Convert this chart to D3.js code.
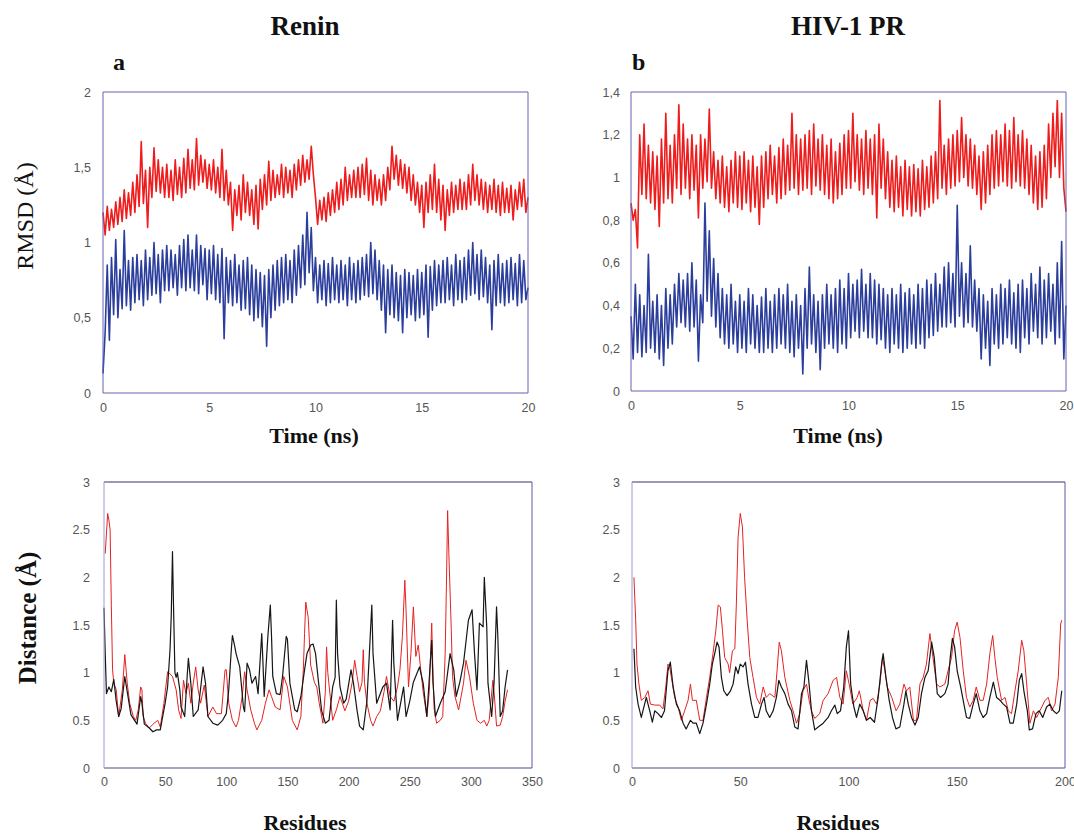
<!DOCTYPE html>
<html>
<head>
<meta charset="utf-8">
<script src="https://cdn.jsdelivr.net/npm/d3@7"></script>
<style>
  body { margin: 0; background: #fff; }
  svg { display: block; }
  .tick text { font-family: "Liberation Sans", Arial, sans-serif; font-size: 12.5px; fill: #555; }
  .title { font-family: "Liberation Serif", "Times New Roman", serif; font-weight: bold; fill: #111; }
</style>
</head>
<body>
<svg id="chart" width="1074" height="835"></svg>
<script>
// RMSD time series, one sample every 0.1 ns (values alternate high / low to follow the noise band)
const timeStep = 0.1;

const reninRed = [
  1.20,1.05,1.24,1.08,1.22,1.10,1.27,1.12,1.30,1.14,
  1.35,1.16,1.33,1.18,1.40,1.20,1.45,1.24,1.67,1.26,
  1.48,1.10,1.50,1.30,1.63,1.34,1.55,1.33,1.50,1.30,
  1.52,1.30,1.48,1.28,1.55,1.32,1.50,1.30,1.56,1.33,
  1.62,1.36,1.55,1.35,1.69,1.38,1.58,1.40,1.55,1.36,
  1.52,1.35,1.55,1.33,1.50,1.30,1.62,1.28,1.48,1.25,
  1.40,1.08,1.35,1.18,1.38,1.15,1.45,1.20,1.40,1.18,
  1.35,1.12,1.38,1.09,1.42,1.22,1.45,1.25,1.54,1.28,
  1.48,1.30,1.45,1.32,1.52,1.30,1.50,1.33,1.48,1.30,
  1.52,1.35,1.55,1.38,1.58,1.40,1.55,1.42,1.64,1.45,
  1.30,1.12,1.28,1.15,1.30,1.14,1.33,1.18,1.35,1.20,
  1.40,1.22,1.42,1.25,1.50,1.28,1.45,1.30,1.48,1.30,
  1.50,1.30,1.52,1.32,1.56,1.28,1.48,1.25,1.45,1.28,
  1.42,1.25,1.45,1.28,1.50,1.35,1.64,1.42,1.58,1.38,
  1.55,1.36,1.52,1.33,1.50,1.28,1.45,1.25,1.40,1.20,
  1.38,1.10,1.40,1.20,1.45,1.22,1.52,1.20,1.42,1.15,
  1.38,1.08,1.35,1.18,1.40,1.20,1.38,1.22,1.42,1.22,
  1.40,1.22,1.45,1.25,1.52,1.28,1.45,1.25,1.42,1.22,
  1.40,1.20,1.38,1.22,1.42,1.20,1.38,1.18,1.40,1.20,
  1.36,1.20,1.38,1.15,1.35,1.22,1.40,1.24,1.42,1.20,
  1.30
];

const reninBlue = [
  0.13,0.40,0.85,0.35,0.90,0.52,1.02,0.50,0.82,0.56,
  1.08,0.58,0.88,0.55,0.90,0.60,0.92,0.62,0.88,0.58,
  0.95,0.62,0.90,0.65,1.00,0.66,0.92,0.60,0.95,0.68,
  0.98,0.68,0.95,0.70,0.92,0.65,0.98,0.70,1.02,0.68,
  1.05,0.70,0.95,0.68,1.05,0.66,0.98,0.72,0.96,0.62,
  0.95,0.66,0.98,0.62,0.92,0.60,0.96,0.36,0.90,0.60,
  0.88,0.58,0.92,0.60,0.85,0.55,0.88,0.56,0.90,0.52,
  0.85,0.48,0.82,0.50,0.80,0.44,0.78,0.31,0.82,0.50,
  0.85,0.55,0.88,0.58,0.90,0.60,0.92,0.62,0.88,0.60,
  0.95,0.65,0.98,0.70,1.05,0.72,1.20,0.80,1.10,0.68,
  0.90,0.60,0.85,0.62,0.88,0.58,0.86,0.60,0.90,0.62,
  0.85,0.60,0.88,0.62,0.85,0.58,0.90,0.62,0.86,0.60,
  0.88,0.62,0.90,0.65,0.92,0.64,1.00,0.66,0.95,0.62,
  0.88,0.55,0.85,0.40,0.82,0.52,0.85,0.50,0.80,0.48,
  0.78,0.40,0.82,0.50,0.80,0.52,0.78,0.48,0.82,0.50,
  0.80,0.52,0.85,0.37,0.84,0.55,0.88,0.58,0.85,0.60,
  0.88,0.60,0.90,0.62,0.85,0.58,0.92,0.62,0.88,0.60,
  0.90,0.62,0.95,0.65,1.00,0.66,0.92,0.62,0.95,0.64,
  0.90,0.60,0.85,0.42,0.88,0.58,0.92,0.60,0.86,0.58,
  0.88,0.60,0.90,0.62,0.86,0.58,0.92,0.60,0.88,0.62,
  0.70
];

const hivRed = [
  0.88,0.80,0.85,0.67,1.20,0.92,1.25,0.90,1.15,0.88,
  1.12,0.85,1.10,0.77,1.18,0.88,1.30,0.90,1.15,0.88,
  1.20,0.95,1.34,0.92,1.25,0.95,1.18,0.90,1.20,0.94,
  1.15,0.81,1.20,0.95,1.18,0.98,1.32,0.95,1.12,0.90,
  1.08,0.88,1.10,0.86,1.05,0.84,1.08,0.88,1.12,0.86,
  1.10,0.85,1.12,0.88,1.08,0.84,1.10,0.86,1.05,0.78,
  1.10,0.86,1.12,0.90,1.15,0.92,1.10,0.88,1.14,0.90,
  1.18,0.92,1.15,0.94,1.30,0.95,1.20,0.92,1.18,0.94,
  1.20,0.95,1.22,0.92,1.25,0.96,1.18,0.94,1.20,0.92,
  1.15,0.90,1.18,0.88,1.12,0.90,1.16,0.92,1.20,0.95,
  1.22,0.95,1.30,0.98,1.20,0.94,1.18,0.92,1.22,0.95,
  1.18,0.92,1.20,0.81,1.25,0.95,1.18,0.90,1.12,0.86,
  1.08,0.84,1.10,0.86,1.05,0.82,1.08,0.85,1.05,0.82,
  1.06,0.84,1.04,0.82,1.08,0.85,1.05,0.86,1.10,0.88,
  1.12,0.90,1.36,0.95,1.15,0.92,1.18,0.95,1.20,0.96,
  1.22,0.98,1.28,1.00,1.20,0.96,1.18,0.95,1.15,0.92,
  1.10,0.85,1.12,0.88,1.15,0.92,1.20,0.95,1.22,0.96,
  1.20,0.98,1.25,0.96,1.22,0.95,1.28,0.98,1.20,0.96,
  1.22,0.95,1.18,0.92,1.15,0.88,1.10,0.85,1.12,0.86,
  1.15,0.90,1.25,1.00,1.30,1.05,1.36,1.00,1.30,0.95,
  0.84
];

const hivBlue = [
  0.35,0.15,0.50,0.18,0.45,0.16,0.40,0.18,0.64,0.20,
  0.42,0.18,0.45,0.15,0.40,0.12,0.48,0.20,0.45,0.22,
  0.50,0.30,0.55,0.32,0.52,0.30,0.55,0.28,0.60,0.30,
  0.52,0.14,0.45,0.32,0.88,0.42,0.75,0.35,0.62,0.30,
  0.55,0.25,0.48,0.22,0.45,0.20,0.50,0.22,0.42,0.18,
  0.45,0.20,0.42,0.18,0.48,0.22,0.45,0.20,0.40,0.18,
  0.44,0.18,0.48,0.20,0.42,0.18,0.45,0.20,0.48,0.22,
  0.45,0.20,0.50,0.18,0.42,0.16,0.45,0.20,0.40,0.08,
  0.48,0.20,0.58,0.22,0.45,0.18,0.42,0.10,0.45,0.20,
  0.50,0.22,0.45,0.20,0.48,0.18,0.52,0.22,0.48,0.20,
  0.55,0.25,0.50,0.28,0.52,0.25,0.57,0.28,0.50,0.25,
  0.55,0.25,0.52,0.22,0.50,0.24,0.48,0.20,0.45,0.18,
  0.48,0.22,0.45,0.20,0.50,0.18,0.46,0.20,0.48,0.22,
  0.45,0.20,0.50,0.22,0.48,0.20,0.52,0.25,0.50,0.26,
  0.55,0.28,0.50,0.30,0.58,0.30,0.60,0.32,0.55,0.30,
  0.87,0.35,0.60,0.30,0.55,0.32,0.68,0.30,0.52,0.28,
  0.48,0.15,0.45,0.20,0.42,0.12,0.48,0.22,0.45,0.20,
  0.50,0.22,0.48,0.25,0.52,0.22,0.46,0.20,0.50,0.18,
  0.52,0.25,0.48,0.22,0.55,0.28,0.50,0.25,0.58,0.22,
  0.52,0.25,0.55,0.28,0.50,0.22,0.60,0.25,0.70,0.15,
  0.40
];

// per-residue distance, [residue, Å]
const reninDistRed = [
  [1,2.25],[3,2.67],[4,2.6],[5,2.5],[6,1.7],[7,1.03],[8,0.89],[10,0.82],[11,0.68],[12,0.54],
  [15,0.82],[17,1.19],[19,0.89],[21,0.68],[24,0.54],[26,0.5],[28,0.61],[30,0.85],[31,0.82],[32,0.54],
  [34,0.47],[37,0.42],[41,0.47],[44,0.5],[46,0.43],[49,0.68],[52,1.01],[53,1.0],[56,0.96],[59,0.82],
  [61,0.61],[63,0.52],[65,0.92],[67,0.78],[69,0.89],[71,0.68],[73,0.89],[75,1.06],[77,0.82],[79,0.68],
  [82,0.87],[85,0.54],[89,0.64],[92,0.57],[96,0.57],[99,1.03],[100,1.03],[102,0.68],[105,0.5],[108,0.43],
  [110,0.5],[113,0.75],[115,1.01],[117,0.82],[120,0.61],[123,0.47],[125,0.4],[129,0.5],[132,0.68],[135,0.82],
  [137,0.75],[140,0.64],[144,0.61],[147,0.96],[150,0.85],[154,0.5],[158,0.4],[161,0.54],[163,1.03],[164,1.41],
  [165,1.74],[167,1.58],[169,1.08],[172,0.9],[174,0.85],[176,0.68],[179,0.47],[181,0.8],[182,1.27],[183,1.0],
  [185,0.75],[187,0.5],[190,0.61],[193,0.75],[197,0.6],[200,0.7],[203,0.9],[205,1.13],[207,0.96],[209,0.8],
  [211,0.9],[212,1.24],[213,0.9],[215,0.68],[218,0.5],[220,0.44],[223,0.54],[226,0.6],[229,0.8],[231,0.96],
  [234,0.75],[237,0.7],[240,0.85],[242,1.03],[244,1.38],[246,1.97],[247,1.66],[249,0.85],[251,1.2],[253,1.69],
  [255,1.17],[257,1.29],[259,1.03],[261,0.8],[264,0.54],[266,0.8],[268,1.52],[269,1.0],[270,0.62],[272,0.47],
  [275,0.5],[277,0.54],[279,1.2],[280,1.9],[281,2.7],[282,2.25],[284,1.45],[285,0.96],[287,0.75],[290,0.61],
  [294,0.89],[296,1.13],[299,0.95],[302,0.68],[305,0.5],[308,0.47],[311,0.5],[313,0.44],[315,0.5],[318,0.92],
  [319,0.8],[321,0.44],[324,0.45],[326,0.54],[328,0.7],[330,0.82]
];

const reninDistBlack = [
  [0,1.68],[1,1.2],[2,0.78],[4,0.85],[6,0.8],[8,0.93],[10,0.7],[12,0.54],[14,0.62],[17,0.96],
  [19,0.8],[22,0.56],[25,0.5],[27,0.46],[30,0.75],[31,0.68],[33,0.46],[37,0.42],[40,0.38],[43,0.4],
  [46,0.4],[50,0.68],[52,0.85],[54,1.24],[55,1.6],[56,2.27],[57,1.6],[58,1.0],[59,0.95],[60,1.0],
  [62,0.82],[63,0.64],[66,0.54],[68,0.96],[69,1.15],[71,0.89],[73,0.54],[77,0.61],[81,1.06],[83,0.89],
  [85,0.54],[89,0.47],[93,0.45],[97,0.5],[100,0.57],[102,0.82],[104,1.22],[105,1.39],[107,1.27],[108,1.2],
  [111,1.06],[114,0.64],[115,0.59],[117,1.1],[119,1.03],[121,0.89],[124,0.96],[126,0.78],[129,1.41],[130,1.1],
  [131,0.75],[134,1.38],[136,1.71],[137,1.38],[138,0.96],[141,0.78],[144,0.77],[146,0.96],[149,1.38],[150,1.35],
  [152,0.89],[156,0.61],[158,0.59],[161,0.75],[164,1.03],[166,1.2],[169,1.29],[171,1.3],[173,1.2],[175,0.95],
  [178,0.6],[181,0.47],[184,0.5],[187,0.85],[189,0.95],[190,1.76],[191,1.2],[193,0.85],[196,0.68],[198,0.72],
  [202,1.03],[204,0.89],[207,0.6],[209,0.44],[212,0.4],[215,0.7],[217,1.2],[219,1.71],[220,1.2],[223,0.68],
  [228,0.85],[231,0.89],[234,0.61],[236,1.55],[237,1.1],[240,0.5],[245,0.85],[247,0.54],[250,0.7],[253,0.9],
  [258,1.06],[261,0.89],[264,0.54],[268,1.34],[269,0.9],[271,0.54],[275,0.68],[279,0.8],[283,1.2],[286,1.03],
  [288,0.75],[291,0.9],[294,1.1],[298,1.55],[301,1.66],[303,1.2],[305,0.82],[307,1.52],[310,1.48],[311,2.0],
  [313,1.48],[314,0.89],[317,0.54],[319,0.9],[321,1.69],[322,1.4],[324,0.54],[326,0.6],[328,0.85],[330,1.03]
];

const hivDistRed = [
  [0.9,2.0],[1.7,1.55],[2.3,1.09],[3.2,0.88],[4.3,0.71],[5.9,0.74],[7.4,0.81],[8.5,0.67],[10.5,0.66],[12.8,0.66],
  [14.3,0.62],[15.6,0.85],[16.6,1.09],[17.4,1.06],[18.2,0.95],[19.7,0.74],[21.3,0.64],[22.8,0.5],[24.3,0.6],[25.9,0.71],
  [27,0.88],[27.9,0.71],[29.7,0.71],[31.3,0.5],[32.8,0.5],[34.4,0.74],[35.9,0.95],[37.4,1.2],[38.7,1.44],[39.8,1.71],
  [40.8,1.69],[41.8,1.44],[42.8,1.16],[44.4,1.09],[45.1,1.0],[46.4,1.23],[47.5,1.25],[48.2,1.72],[49,2.42],[50,2.67],
  [51,2.53],[52,2.0],[53.2,1.55],[54.4,1.16],[55.9,0.95],[57.5,0.74],[59,0.67],[60.6,0.85],[62,0.74],[63.6,0.78],
  [66,0.74],[67,1.02],[68,1.32],[69,1.23],[70.6,0.95],[72.9,0.71],[74.4,0.6],[76,0.47],[77.5,0.57],[79,0.81],
  [80.6,0.88],[81.8,0.71],[82.9,0.6],[84.4,0.52],[86.7,0.57],[88.3,0.71],[90.6,0.78],[92.9,0.92],[94.5,0.95],[96,0.74],
  [97.5,0.67],[99,1.02],[100.3,0.88],[102,0.67],[104,0.74],[105,0.81],[106.8,0.6],[108.3,0.5],[110,0.71],[111.4,0.73],
  [113,0.67],[114.5,0.88],[115.7,1.16],[116.8,1.02],[117.9,0.85],[120,0.74],[122,0.6],[123.7,0.67],[125.6,0.88],[126.8,0.81],
  [128.3,0.85],[130,0.5],[131.4,0.5],[133,0.88],[134.5,0.95],[136,1.09],[137.6,1.41],[139,1.16],[140.7,0.88],[142.2,0.85],
  [144.5,0.88],[146,1.02],[147.6,1.16],[149,1.44],[150.2,1.53],[151.5,1.37],[153,1.02],[154.5,0.74],[156,0.64],[157.6,0.71],
  [159,0.85],[160.7,0.71],[162.2,0.71],[163.8,0.88],[165.3,1.2],[166.6,1.39],[167.6,1.16],[168.7,0.95],[170.7,0.71],[172.3,0.74],
  [173.8,0.6],[175.3,0.57],[176.9,0.81],[178.4,1.02],[180,1.34],[181,1.23],[182.3,0.88],[183.8,0.47],[185.4,0.6],[186.9,0.53],
  [188.4,0.6],[190.8,0.71],[192.3,0.74],[193.8,0.6],[195.4,0.67],[196.9,0.95],[198,1.51],[198.5,1.55]
];

const hivDistBlack = [
  [0.9,1.25],[1.7,0.85],[2.8,0.67],[4.3,0.53],[6.6,0.74],[8.2,0.6],[9.4,0.48],[10.5,0.6],[12,0.57],[13.6,0.53],
  [15,0.6],[16.6,1.02],[17.7,1.11],[19,0.85],[20.5,0.67],[22,0.6],[23.6,0.47],[25,0.41],[27,0.5],[28.2,0.47],
  [29.7,0.47],[31.3,0.36],[32.8,0.47],[34.4,0.67],[35.9,0.88],[37.1,1.09],[38.2,1.2],[39.3,1.32],[40.2,1.27],[41.3,0.95],
  [42.4,0.81],[43.9,0.76],[45.5,0.81],[46.7,0.88],[47.9,1.06],[49,0.99],[50,1.09],[51.3,1.06],[52.4,1.11],[53.6,0.88],
  [55.2,0.67],[56.7,0.53],[58.2,0.53],[59.8,0.67],[61,0.74],[62,0.6],[63.6,0.53],[65.2,0.6],[66.7,0.74],[67.8,0.92],
  [69,0.85],[70.6,0.78],[72.1,0.67],[73.7,0.6],[75.2,0.43],[76.7,0.41],[78.3,0.78],[79.4,0.85],[80.6,1.13],[81.8,0.88],
  [82.9,0.6],[84.4,0.4],[86,0.43],[88.3,0.47],[90.6,0.53],[92.1,0.6],[93.7,0.66],[94.8,0.57],[96.3,0.6],[97.8,0.85],
  [99,1.27],[100,1.44],[101,0.88],[102.5,0.64],[103.7,0.53],[105.2,0.67],[106.8,0.6],[108.3,0.5],[110,0.53],[112,0.48],
  [113.7,0.74],[115.3,1.09],[116,1.2],[117.3,0.95],[118.8,0.71],[120.3,0.53],[121.9,0.41],[123.7,0.43],[125.6,0.67],[126.5,0.81],
  [127.6,0.67],[129.1,0.53],[130.7,0.45],[132.2,0.53],[133.7,0.78],[135.3,0.95],[136.8,1.02],[138.4,1.32],[139.6,1.16],[141,0.78],
  [142.5,0.74],[144.5,0.78],[146,0.88],[147,1.16],[148,1.36],[149,1.27],[150.2,1.02],[151.8,0.85],[153.3,0.67],[154.5,0.53],
  [156,0.52],[157.6,0.67],[159,0.78],[160.7,0.6],[162.2,0.53],[163.8,0.57],[165.3,0.74],[166.9,0.9],[168.4,0.74],[170,0.71],
  [171.5,0.67],[173,0.64],[174.6,0.47],[176.1,0.47],[177.7,0.67],[178.9,0.92],[180,0.99],[181,0.81],[182.6,0.6],[183.5,0.4],
  [185,0.41],[186.6,0.57],[188.1,0.6],[189.7,0.53],[191.5,0.64],[193,0.67],[194.6,0.6],[196.1,0.57],[197.4,0.6],[198.5,0.81]
];

const timeTicks = [0, 5, 10, 15, 20];
const reninRmsdTicks = [0, 0.5, 1, 1.5, 2];
const hivRmsdTicks = [0, 0.2, 0.4, 0.6, 0.8, 1, 1.2, 1.4];
const reninResTicks = [0, 50, 100, 150, 200, 250, 300, 350];
const hivResTicks = [0, 50, 100, 150, 200];
const distTicks = [0, 0.5, 1, 1.5, 2, 2.5, 3];

const commaFmt = d3.formatLocale({ decimal: ",", thousands: ".", grouping: [3], currency: ["", ""] }).format("~g");
const dotFmt = d3.format("~g");

const svg = d3.select('#chart');

function drawPanel(p) {
    const x = d3.scaleLinear().domain(p.xDomain).range([p.left, p.right]);
    const y = d3.scaleLinear().domain(p.yDomain).range([p.bottom, p.top]);
    const g = svg.append('g');

    g.append('g')
        .attr('transform', `translate(${p.left},0)`)
        .call(d3.axisLeft(y).tickValues(p.yTicks).tickFormat(p.fmt).tickSize(0).tickPadding(p.yPad))
        .call(s => s.select('.domain').remove());

    g.append('g')
        .attr('transform', `translate(0,${p.bottom})`)
        .call(d3.axisBottom(x).tickValues(p.xTicks).tickFormat(dotFmt).tickSize(0).tickPadding(p.xPad))
        .call(s => s.select('.domain').remove());

    p.series.forEach(s => {
        const line = d3.line()
            .x(d => x(d[0]))
            .y(d => y(d[1]));
        g.append('path')
            .datum(s.points)
            .attr('fill', 'none')
            .attr('stroke', s.color)
            .attr('stroke-width', s.width)
            .attr('stroke-linejoin', 'round')
            .attr('d', line);
    });

    // frame
    const frame = p.frame;
    g.append('line').attr('x1', p.left).attr('x2', p.right).attr('y1', p.top).attr('y2', p.top).attr('stroke', frame.top);
    g.append('line').attr('x1', p.right).attr('x2', p.right).attr('y1', p.top).attr('y2', p.bottom).attr('stroke', frame.right);
    g.append('line').attr('x1', p.left).attr('x2', p.right).attr('y1', p.bottom).attr('y2', p.bottom).attr('stroke', frame.bottom);
    g.append('line').attr('x1', p.left).attr('x2', p.left).attr('y1', p.top).attr('y2', p.bottom).attr('stroke', frame.left);
}

const timePoints = arr => arr.map((v, i) => [i * timeStep, v]);
const topFrame = { top: '#6262b4', right: '#6262b4', bottom: '#6262b4', left: '#6262b4' };
const botFrame = { top: '#34346e', right: '#5a5aa8', bottom: '#4a4a8a', left: '#9a9ad0' };

drawPanel({
    left: 103, right: 528, top: 92, bottom: 393,
    xDomain: [0, 20], yDomain: [0, 2], xTicks: timeTicks, yTicks: reninRmsdTicks,
    fmt: commaFmt, yPad: 12, xPad: 10, frame: topFrame,
    series: [
        { points: timePoints(reninRed), color: '#ee1c1c', width: 1.6 },
        { points: timePoints(reninBlue), color: '#2c3e9c', width: 1.6 }
    ]
});

drawPanel({
    left: 631, right: 1066, top: 92, bottom: 391,
    xDomain: [0, 20], yDomain: [0, 1.4], xTicks: timeTicks, yTicks: hivRmsdTicks,
    fmt: commaFmt, yPad: 11, xPad: 10, frame: topFrame,
    series: [
        { points: timePoints(hivRed), color: '#ee1c1c', width: 1.6 },
        { points: timePoints(hivBlue), color: '#2c3e9c', width: 1.6 }
    ]
});

drawPanel({
    left: 104, right: 532, top: 482, bottom: 768,
    xDomain: [0, 350], yDomain: [0, 3], xTicks: reninResTicks, yTicks: distTicks,
    fmt: dotFmt, yPad: 14, xPad: 9, frame: botFrame,
    series: [
        { points: reninDistRed, color: '#e52222', width: 1 },
        { points: reninDistBlack, color: '#161616', width: 1.2 }
    ]
});

drawPanel({
    left: 632, right: 1065, top: 482, bottom: 768,
    xDomain: [0, 200], yDomain: [0, 3], xTicks: hivResTicks, yTicks: distTicks,
    fmt: dotFmt, yPad: 12, xPad: 9, frame: botFrame,
    series: [
        { points: hivDistRed, color: '#e52222', width: 1 },
        { points: hivDistBlack, color: '#161616', width: 1.2 }
    ]
});

// titles and axis labels
const texts = [
    { t: 'Renin', x: 305, y: 35, size: 27 },
    { t: 'HIV-1 PR', x: 848, y: 35, size: 27 },
    { t: 'a', x: 113, y: 70, size: 24, anchor: 'start' },
    { t: 'b', x: 632, y: 70, size: 24, anchor: 'start' },
    { t: 'Time (ns)', x: 314, y: 443, size: 22 },
    { t: 'Time (ns)', x: 838, y: 443, size: 22 },
    { t: 'Residues', x: 305, y: 830, size: 22 },
    { t: 'Residues', x: 838, y: 830, size: 22 }
];
texts.forEach(d => {
    svg.append('text')
        .attr('class', 'title')
        .attr('x', d.x).attr('y', d.y)
        .attr('text-anchor', d.anchor || 'middle')
        .style('font-size', d.size + 'px')
        .text(d.t);
});

svg.append('text')
    .attr('class', 'title')
    .attr('transform', 'translate(33,216) rotate(-90)')
    .attr('text-anchor', 'middle')
    .style('font-size', '24px')
    .style('font-weight', 'normal')
    .text('RMSD (Å)');

svg.append('text')
    .attr('class', 'title')
    .attr('transform', 'translate(36,618) rotate(-90)')
    .attr('text-anchor', 'middle')
    .style('font-size', '25px')
    .text('Distance (Å)');
</script>
</body>
</html>
